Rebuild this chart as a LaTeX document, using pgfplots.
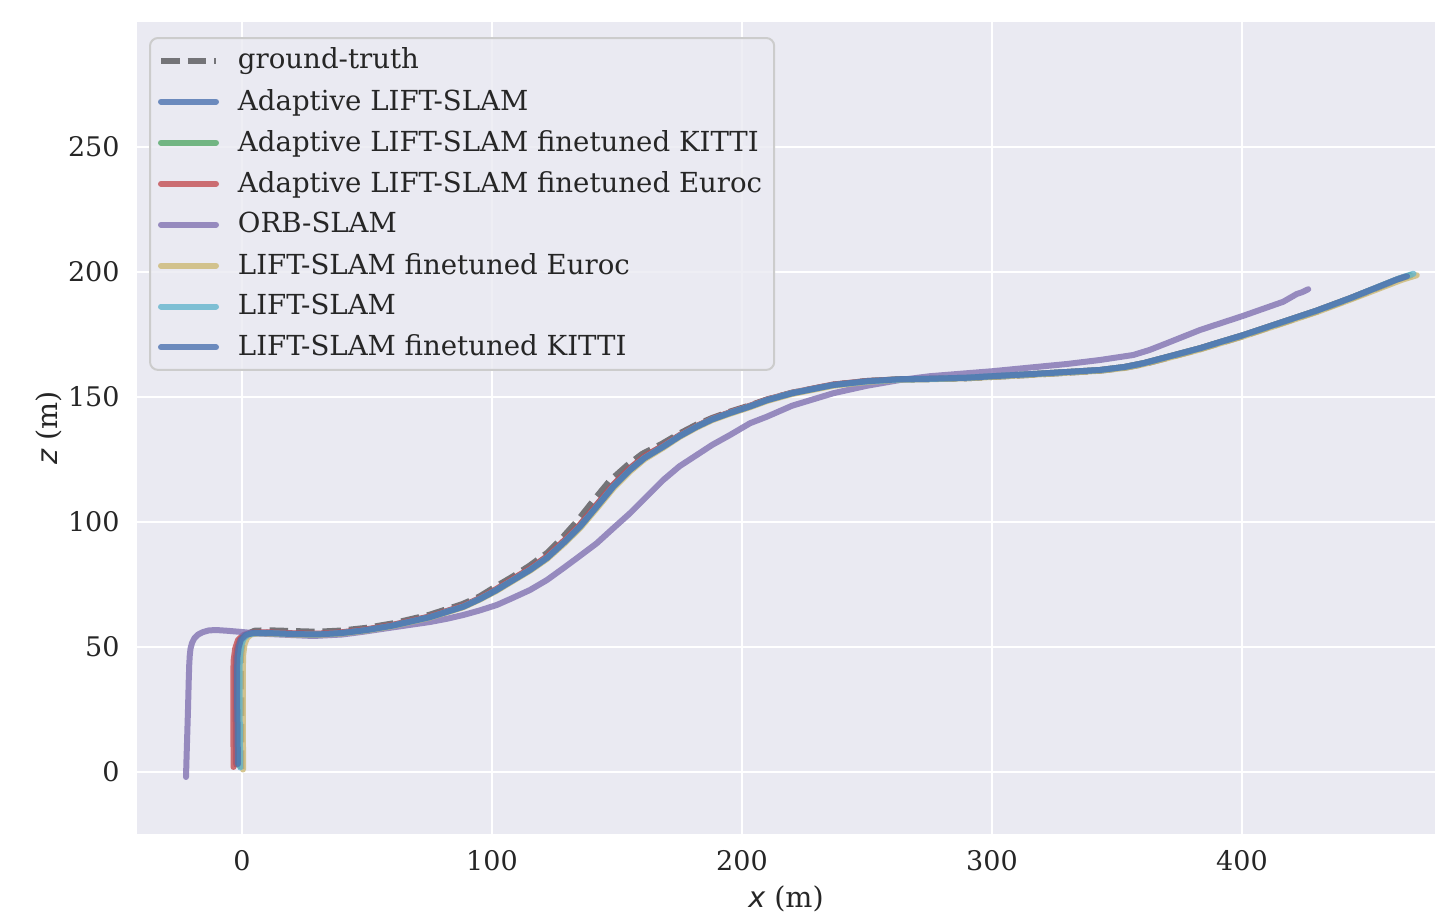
\documentclass[border=0pt]{standalone}
\usepackage{fontspec}
\setmainfont{DejaVu Serif}
\newfontfamily\dvsans{DejaVu Sans}
\usepackage{pgfplots}
\usepackage{pgfplotstable}
\pgfplotsset{compat=1.18}
\definecolor{bgc}{HTML}{EAEAF2}
\definecolor{txt}{HTML}{262626}
\definecolor{legbord}{HTML}{CCCCCC}
\definecolor{c1}{HTML}{4C72B0}
\definecolor{c2}{HTML}{55A868}
\definecolor{c3}{HTML}{C44E52}
\definecolor{c4}{HTML}{8172B2}
\definecolor{c5}{HTML}{CCB974}
\definecolor{c6}{HTML}{64B5CD}

\pgfplotstableread{
x y
-0.3 1.2
-0.3 10
-0.3 30
-0.4 45
-0.1 49.5
0.8 53
2.5 55.4
5 56.5
10 56.7
20 56.4
30 56.1
40 56.6
50 57.7
60 59.4
75 62.9
88 67.1
95 70.2
101 73.9
108 78.0
115 82.5
122 87.6
128 93.6
134 100.3
140.5 108.5
147 116.4
154 122.6
160 127.2
168 131.3
175 135.4
181.5 138.8
188 141.6
195 144.1
203 146.6
210 149.0
220 151.7
236.5 154.9
250 156.4
263 157.0
275 157.2
290 157.5
300 158.0
316.5 158.9
330 159.7
343 160.5
353 161.7
360.5 163.1
370 165.6
383 169.1
390 171.2
400 174.2
416.5 179.7
430 184.2
443 189.1
456.5 194.5
463 197.2
468 198.9
}\gt

\pgfplotstableread{
x y
-22.4 -2
-22.2 5
-21.9 15
-21.6 25
-21.3 36.8
-21.1 43
-20.9 46.5
-20.6 49.3
-20.0 51.6
-19.1 53.4
-17.7 54.9
-15.8 55.9
-13.4 56.6
-10.5 56.8
-6 56.5
0 56
5 55.5
15 55
28.5 54.4
40 55
48.5 56.1
60 57.8
75.2 60
82 61.3
88.5 62.8
95 64.6
101.9 66.8
108 69.5
115.2 72.8
122 76.8
128.5 81.5
135 86.3
141.9 91.5
148.5 97.5
155.2 103.5
162 110.3
168.5 116.8
175 122.3
181.9 126.8
188 130.8
195.2 134.8
203.2 139.5
209.9 142.1
220 146.5
236.5 151.5
250 154.5
263.2 156.8
275 158.3
289.9 159.5
300 160.3
316.5 161.9
330 163.2
343.2 164.8
356.5 166.8
363 168.8
369.9 171.5
383.2 176.8
389.9 179
400 182.3
416.5 188.1
421.9 191.2
424 191.9
426.5 193.1
}\orb

\pgfplotstableread{
xA yA xG yG xR yR xY yY xC yC xK yK
-2.3 3.0 -1.1 2.6 -3.4 2.0 0.4 1.0 -0.7 1.8 -1.6 3.2
-2.4 10 -1.2 10 -3.4 10 0.4 10 -0.8 10 -1.7 10
-2.5 20 -1.3 20 -3.5 20 0.3 20 -0.9 20 -1.8 20
-2.6 30 -1.4 30 -3.5 30 0.3 30 -1.0 30 -2.0 30
-2.6 40 -1.4 40 -3.5 40 0.3 40 -1.0 40 -2.0 40
-2.4 46 -1.2 46.5 -3.3 45 0.5 47 -0.8 46.5 -1.8 46
-1.8 50 -0.6 50.5 -2.7 49.5 1.0 51 -0.3 50.5 -1.3 50
-0.8 53 0.3 53.3 -1.6 52.8 2.0 53.6 0.6 53.3 -0.4 53
1.2 54.9 2.0 54.9 0.6 54.8 3.6 55.0 2.3 54.9 1.5 54.8
4 55.6 4.5 55.5 4 55.7 6 55.4 5 55.5 4 55.5
10 55.8 10 55.6 10 55.9 10 55.4 10 55.6 10 55.6
20 55.4 20 55.2 20 55.5 20 55.0 20 55.2 20 55.2
30 55.2 30 55.0 30 55.3 30 54.8 30 55.0 30 55.0
40 55.8 40 55.6 40 55.9 40 55.4 40 55.6 40 55.6
50 57.0 50 56.8 50 57.1 50 56.6 50 56.8 50 56.8
60 58.7 60 58.5 60 58.8 60 58.3 60 58.5 60 58.5
75 62.1 75 61.9 75 62.2 75 61.7 75 61.9 75 61.9
88.5 66.4 88.5 66.1 88.5 66.5 88.5 65.9 88.5 66.2 88.5 66.1
95 69.4 95 69.1 95 69.5 95 68.9 95 69.2 95 69.1
101.9 73.1 101.9 72.8 101.9 73.3 101.9 72.5 101.9 72.9 101.9 72.8
108 76.9 108 76.5 108 77.1 108 76.2 108 76.6 108 76.5
115.2 81.2 115.2 80.8 115.2 81.4 115.2 80.5 115.2 80.9 115.2 80.8
122 86.1 122 85.6 122 86.3 122 85.2 122 85.7 122 85.6
128.5 92.1 128.5 91.5 128.5 92.3 128.5 91.0 128.5 91.6 128.5 91.5
135.2 98.8 135.2 98.1 135.2 99.0 135.2 97.5 135.2 98.2 135.2 98.1
141.9 106.8 141.9 106.1 141.9 107.0 141.9 105.4 141.9 106.2 141.9 106.1
148.5 114.8 148.5 114.1 148.5 115.0 148.5 113.4 148.5 114.2 148.5 114.1
155.2 121.4 155.2 120.8 155.2 121.6 155.2 120.2 155.2 120.9 155.2 120.8
161 126.1 161 125.6 161 126.3 161 125.1 161 125.7 161 125.6
168.5 130.5 168.5 130.1 168.5 130.6 168.5 129.7 168.5 130.2 168.5 130.1
175 134.6 175 134.3 175 134.7 175 134.0 175 134.4 175 134.3
181.9 138.3 181.9 138.1 181.9 138.4 181.9 137.8 181.9 138.2 181.9 138.1
188 141.2 188 141.0 188 141.3 188 140.7 188 141.1 188 141.0
195.2 143.8 195.2 143.6 195.2 143.9 195.2 143.3 195.2 143.7 195.2 143.6
203.2 146.4 203.2 146.2 203.2 146.5 203.2 145.9 203.2 146.3 203.2 146.2
210 148.9 210 148.7 210 149.0 210 148.4 210 148.8 210 148.7
220 151.6 220 151.5 220 151.7 220 151.2 220 151.6 220 151.5
236.5 154.9 236.5 154.8 236.5 155.0 236.5 154.5 236.5 154.8 236.5 154.8
250 156.3 250 156.3 250 156.4 250 156.0 250 156.2 250 156.3
263.2 157.0 263.2 157.1 263.2 157.1 263.2 156.9 263.2 157.0 263.2 157.1
275 157.2 275 157.3 275 157.3 275 157.1 275 157.2 275 157.3
289.9 157.6 289.9 157.7 289.9 157.7 289.9 157.5 289.9 157.7 289.9 157.7
300 158.2 300 158.3 300 158.3 300 158.0 300 158.3 300 158.3
316.5 159.1 316.5 159.2 316.5 159.2 316.5 158.9 316.5 159.2 316.5 159.2
330 159.9 330 160.0 330 160.0 330 159.7 330 160.0 330 160.0
343.2 160.7 343.2 160.8 343.2 160.8 343.2 160.5 343.2 160.8 343.2 160.8
353 161.9 353 162.0 353 162.0 353 161.6 353 162.0 353 162.0
360.5 163.4 360.5 163.5 360.5 163.5 360.5 163.1 360.5 163.5 360.5 163.5
370 165.9 370 166.0 370 166.0 370 165.5 370 166.0 370 166.0
383.2 169.4 383.2 169.5 383.2 169.5 383.2 169.0 383.2 169.5 383.2 169.5
390 171.5 390 171.6 390 171.6 390 171.1 390 171.6 390 171.6
400 174.5 400 174.6 400 174.6 400 174.1 400 174.6 400 174.6
416.5 180.0 416.5 180.1 416.5 180.1 416.5 179.5 416.5 180.1 416.5 180.1
430 184.5 430 184.6 430 184.6 430 184.0 430 184.6 430 184.6
443.2 189.4 443.2 189.5 443.2 189.5 443.2 188.9 443.2 189.5 443.2 189.5
456.5 194.7 456.5 194.8 456.5 194.8 456.5 194.0 456.5 194.9 456.5 194.8
461 196.6 462.5 197.2 461.5 196.8 464 196.9 463 197.5 462 197.0
464.5 197.8 467.5 198.7 465 198.1 469.9 198.7 468.6 199.3 466 198.3
}\runs

\begin{document}
\fontsize{13.6bp}{16bp}\selectfont
\begin{tikzpicture}
\useasboundingbox (0,0) rectangle (726.5bp,459bp);
\begin{axis}[
  at={(68.5bp,42bp)}, anchor=south west,
  width=649bp, height=406bp, scale only axis,
  xmin=-42, xmax=477.2, ymin=-24.8, ymax=300,
  xtick={0,100,200,300,400}, ytick={0,50,100,150,200,250},
  axis background/.style={fill=bgc},
  axis line style={draw=none},
  major tick length=0pt,
  tick style={draw=none},
  grid=major, grid style={white, line width=1bp},
  /pgf/number format/assume math mode=true,
  ticklabel style={font=\fontsize{13.5bp}{16bp}\selectfont, text=txt},
  xticklabel style={inner sep=0pt, yshift=-8bp, anchor=north},
  yticklabel style={inner sep=0pt, xshift=-8.5bp, anchor=east},
  xlabel={{\dvsans\itshape x} (m)},
  ylabel={{\dvsans\itshape z} (m)},
  label style={font=\fontsize{14.3bp}{17bp}\selectfont, text=txt, inner sep=0pt},
  xlabel style={at={(axis description cs:0.5,-0.0899)}, anchor=base},
  ylabel style={at={(axis description cs:-0.0616,0.5)}, anchor=base},
  every axis plot/.append style={line width=3bp, line join=round, line cap=round, opacity=0.8},
  legend cell align=left,
  legend style={at={(axis description cs:0.00924,0.9815)}, anchor=north west,
    draw=legbord, line width=1bp, rounded corners=4bp,
    fill=bgc, fill opacity=0.8, draw opacity=1, text opacity=1,
    font=\fontsize{13.8bp}{16bp}\selectfont, text=txt,
    inner xsep=4bp, inner ysep=3bp, row sep=4.05bp, column sep=7.5bp},
  legend image code/.code={\draw[#1] (0bp,0bp) -- (27.5bp,0bp);},
]
\addplot[black, opacity=0.5, line cap=butt, dash pattern=on 9.25bp off 4bp] table[x=x,y=y] {\gt};
\addlegendentry{ground-truth}
\addplot[c1] table[x=xA,y=yA] {\runs};
\addlegendentry{Adaptive LIFT-SLAM}
\addplot[c2] table[x=xG,y=yG] {\runs};
\addlegendentry{Adaptive LIFT-SLAM finetuned KITTI}
\addplot[c3] table[x=xR,y=yR] {\runs};
\addlegendentry{Adaptive LIFT-SLAM finetuned Euroc}
\addplot[c4] table[x=x,y=y] {\orb};
\addlegendentry{ORB-SLAM}
\addplot[c5] table[x=xY,y=yY] {\runs};
\addlegendentry{LIFT-SLAM finetuned Euroc}
\addplot[c6] table[x=xC,y=yC] {\runs};
\addlegendentry{LIFT-SLAM}
\addplot[c1] table[x=xK,y=yK] {\runs};
\addlegendentry{LIFT-SLAM finetuned KITTI}
\end{axis}
\end{tikzpicture}
\end{document}
